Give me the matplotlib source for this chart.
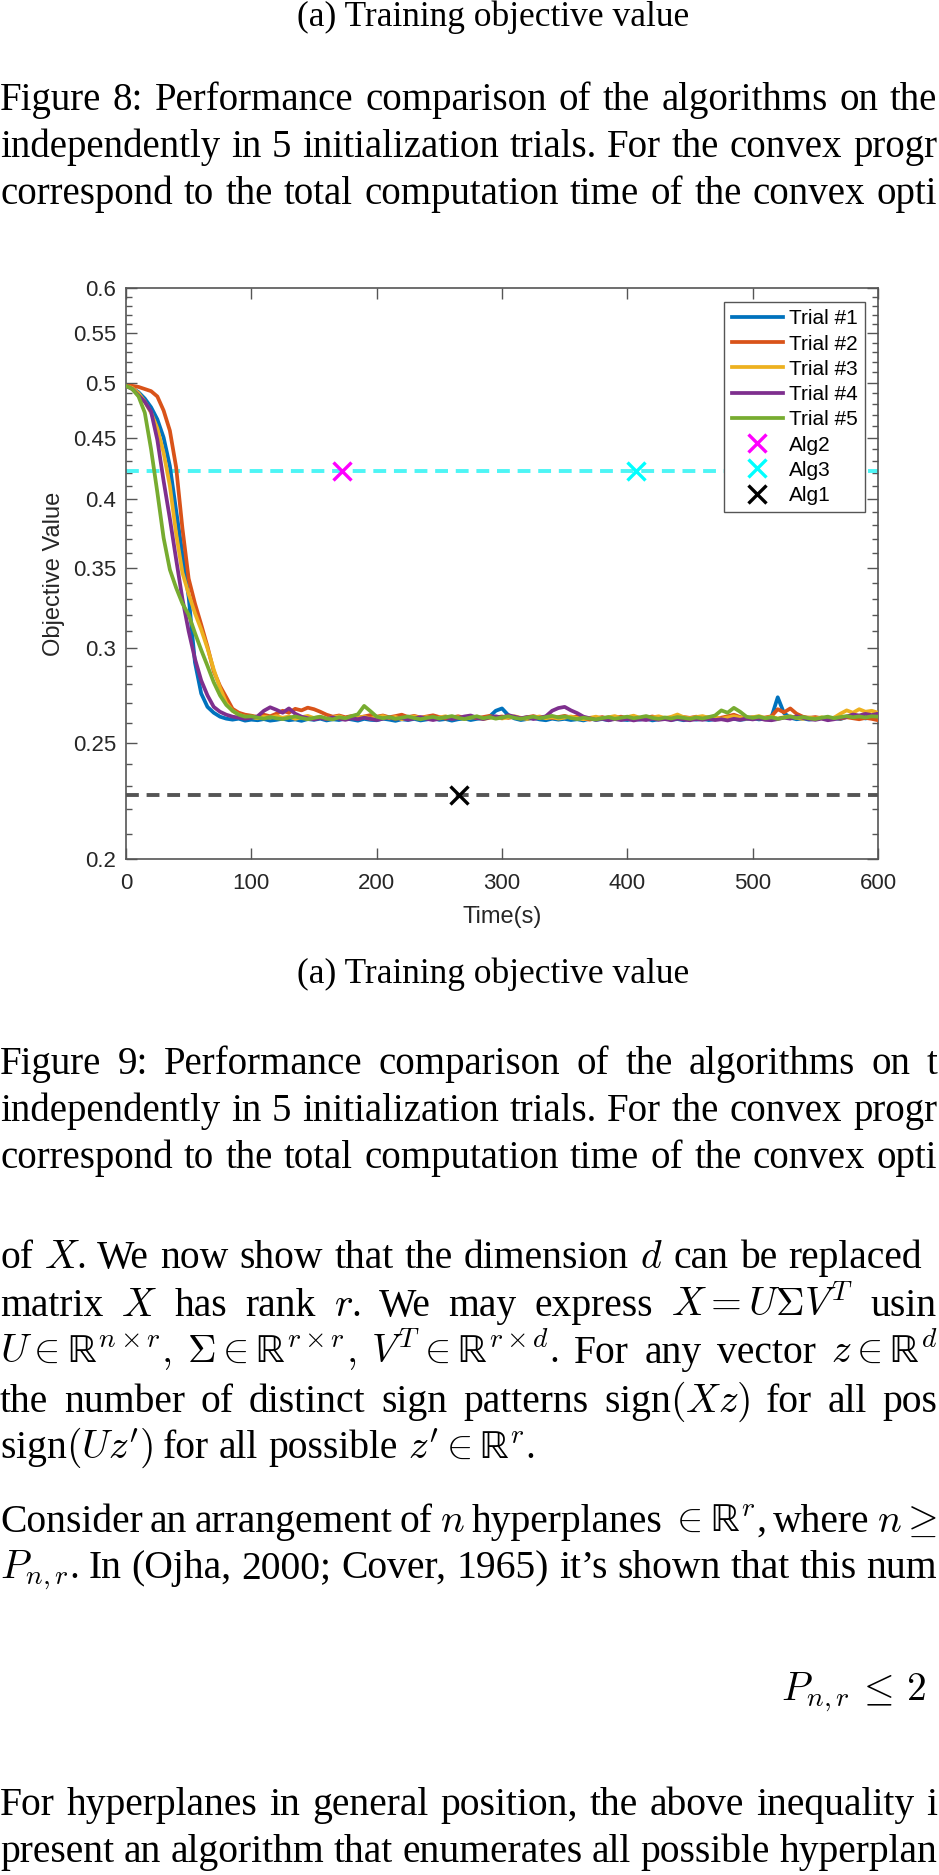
import numpy as np
import matplotlib.pyplot as plt
from matplotlib.ticker import FixedLocator, NullFormatter

W, H = 939, 1875

plt.rcParams['font.family'] = 'Liberation Serif'
plt.rcParams['mathtext.fontset'] = 'cm'

# time grid of the trial curves (s)
time_s = np.arange(0, 601, 5)

# descent part, t = 0..95 s
t1_desc = [.497, .495, .491, .485, .477, .466, .450, .426, .391, .360,
           .331, .292, .275, .268, .265, .263, .262, .2615, .262, .261]
t2_desc = [.497, .497, .496, .494, .492, .487, .474, .456, .425, .378,
           .343, .327, .314, .301, .287, .279, .273, .267, .265, .264]
t3_desc = [.497, .495, .490, .482, .472, .458, .437, .410, .374, .347,
           .333, .321, .311, .300, .288, .278, .270, .266, .264, .263]
t4_desc = [.497, .494, .488, .482, .473, .448, .414, .385, .356, .330,
           .310, .294, .282, .274, .268, .2655, .264, .263, .2625, .262]
t5_desc = [.497, .494, .487, .472, .440, .405, .371, .349, .337, .327,
           .320, .309, .299, .290, .281, .274, .269, .266, .264, .263]

# plateau part, t = 100..600 s
t1_plat = [.2615, .2612, .2618, .2610, .2614, .2620, .2612, .2616, .2609, .2618,
           .2614, .2620, .2611, .2617, .2613, .2621, .2616, .2610, .2619, .2614,
           .2612, .2620, .2615, .2609, .2617, .2613, .2619, .2611, .2616, .2622,
           .2614, .2618, .2610, .2617, .2621, .2613, .2619, .2622, .2630, .2660,
           .2672, .2638, .2621, .2613, .2618, .2624, .2616, .2612, .2620, .2615,
           .2619, .2613, .2617, .2611, .2620, .2614, .2618, .2612, .2622, .2616,
           .2613, .2619, .2615, .2621, .2611, .2617, .2624, .2614, .2618, .2612,
           .2620, .2615, .2619, .2613, .2617, .2622, .2615, .2619, .2614, .2618,
           .2623, .2616, .2620, .2628, .2730, .2648, .2625, .2617, .2621, .2615,
           .2619, .2624, .2616, .2622, .2618, .2628, .2638, .2630, .2621, .2628,
           .2625]
t2_plat = [.2635, .2628, .2640, .2632, .2645, .2660, .2650, .2670, .2662, .2676,
           .2668, .2655, .2640, .2630, .2636, .2627, .2633, .2625, .2631, .2638,
           .2630, .2636, .2627, .2633, .2640, .2628, .2634, .2625, .2631, .2637,
           .2628, .2620, .2626, .2632, .2624, .2630, .2622, .2628, .2634, .2626,
           .2631, .2624, .2629, .2621, .2627, .2633, .2625, .2630, .2623, .2628,
           .2634, .2626, .2631, .2620, .2615, .2622, .2628, .2618, .2624, .2630,
           .2622, .2627, .2619, .2625, .2631, .2623, .2618, .2626, .2621, .2628,
           .2624, .2630, .2622, .2627, .2619, .2625, .2632, .2640, .2628, .2623,
           .2627, .2621, .2626, .2632, .2668, .2652, .2672, .2645, .2630, .2624,
           .2628, .2622, .2618, .2625, .2620, .2627, .2622, .2617, .2624, .2619,
           .2612]
t3_plat = [.2628, .2622, .2630, .2625, .2633, .2624, .2631, .2619, .2627, .2634,
           .2623, .2629, .2618, .2626, .2632, .2621, .2628, .2624, .2630, .2620,
           .2627, .2633, .2622, .2629, .2617, .2625, .2631, .2623, .2628, .2619,
           .2626, .2632, .2621, .2627, .2619, .2625, .2630, .2618, .2624, .2629,
           .2621, .2627, .2632, .2624, .2618, .2626, .2631, .2622, .2628, .2620,
           .2625, .2631, .2623, .2617, .2624, .2630, .2621, .2627, .2633, .2622,
           .2628, .2635, .2624, .2619, .2626, .2632, .2623, .2629, .2641, .2627,
           .2622, .2628, .2633, .2624, .2630, .2619, .2626, .2632, .2625, .2620,
           .2627, .2633, .2623, .2629, .2621, .2627, .2632, .2624, .2619, .2626,
           .2620, .2627, .2618, .2625, .2645, .2662, .2650, .2668, .2655, .2660,
           .2650]
t4_plat = [.2625, .2632, .2660, .2678, .2665, .2650, .2672, .2645, .2630, .2622,
           .2616, .2623, .2618, .2626, .2620, .2614, .2622, .2617, .2625, .2619,
           .2613, .2620, .2626, .2618, .2624, .2615, .2621, .2628, .2619, .2613,
           .2620, .2627, .2618, .2623, .2631, .2636, .2624, .2618, .2626, .2632,
           .2625, .2638, .2630, .2622, .2628, .2618, .2624, .2632, .2660, .2674,
           .2680, .2662, .2648, .2630, .2622, .2614, .2620, .2612, .2618, .2613,
           .2619, .2611, .2617, .2613, .2620, .2614, .2618, .2612, .2621, .2615,
           .2612, .2618, .2614, .2620, .2613, .2617, .2611, .2619, .2614, .2621,
           .2616, .2622, .2614, .2612, .2618, .2625, .2620, .2632, .2624, .2618,
           .2614, .2620, .2612, .2617, .2624, .2630, .2641, .2636, .2644, .2638,
           .2645]
t5_plat = [.2632, .2625, .2620, .2628, .2622, .2618, .2625, .2631, .2623, .2617,
           .2624, .2630, .2621, .2616, .2627, .2622, .2633, .2642, .2685, .2658,
           .2630, .2622, .2628, .2619, .2625, .2631, .2623, .2617, .2624, .2629,
           .2621, .2627, .2633, .2624, .2618, .2626, .2632, .2622, .2628, .2620,
           .2626, .2632, .2624, .2619, .2625, .2630, .2622, .2628, .2634, .2626,
           .2631, .2623, .2618, .2625, .2620, .2616, .2623, .2628, .2619, .2625,
           .2630, .2622, .2627, .2633, .2624, .2619, .2626, .2621, .2628, .2624,
           .2619, .2626, .2621, .2628, .2636, .2662, .2650, .2675, .2655, .2630,
           .2624, .2630, .2622, .2627, .2619, .2625, .2631, .2623, .2628, .2622,
           .2618, .2625, .2630, .2622, .2628, .2633, .2627, .2631, .2626, .2632,
           .2630]

trial_labels = ['Trial #1', 'Trial #2', 'Trial #3', 'Trial #4', 'Trial #5']
trial_colors = ['#0072BD', '#D95319', '#EDB120', '#7E2F8E', '#77AC30']

alg_names = ['Alg2', 'Alg3', 'Alg1']
alg_time = [172, 407, 266]
alg_value = [0.422, 0.422, 0.2262]
alg_colors = ['#FF00FF', '#00FFFF', '#000000']

y_major = [0.2, 0.25, 0.3, 0.35, 0.4, 0.45, 0.5, 0.55, 0.6]
y_labels = ['0.2', '0.25', '0.3', '0.35', '0.4', '0.45', '0.5', '0.55', '0.6']
x_major = [0, 100, 200, 300, 400, 500, 600]

R = r'\mathrm{ℝ}'


def fx(x):
    return x / W


def fy(y):
    return 1 - y / H


fig = plt.figure(figsize=(W / 100, H / 100), dpi=100)
renderer = fig.canvas.get_renderer()


def line(words, y, fs, x1=None, x0=0):
    # place words on one text line; with x1 the line is justified to end at x1
    texts = [fig.text(0, fy(y), w, fontsize=fs, va='baseline') for w in words]
    widths = [t.get_window_extent(renderer).width for t in texts]
    gap = fs * 100 / 72 * 0.25
    if x1 is not None:
        gap = max((x1 - x0 - sum(widths)) / (len(words) - 1), 0.5 * gap)
    x = x0
    for t, w in zip(texts, widths):
        t.set_x(fx(x))
        x += w + gap


sub_fs = 25.5
cap_fs = 28
body_fs = 28.5

# ---- page text above the chart ----
fig.text(fx(493), fy(26), '(a) Training objective value', fontsize=sub_fs,
         ha='center', va='baseline')
line('Figure 8: Performance comparison of the algorithms on the'.split(),
     110, cap_fs, x1=937)
line('independently in 5 initialization trials. For the convex progr'.split(),
     157, cap_fs, x1=937)
line('correspond to the total computation time of the convex opti'.split(),
     204, cap_fs, x1=937)

# ---- chart ----
ax = fig.add_axes([fx(126), fy(859), fx(878 - 126), (859 - 288) / H])
sans = 'Liberation Sans'

trials = [t1_desc + t1_plat, t2_desc + t2_plat, t3_desc + t3_plat,
          t4_desc + t4_plat, t5_desc + t5_plat]
for vals, lab, col in zip(trials, trial_labels, trial_colors):
    ax.plot(time_s, vals, color=col, lw=2.7, label=lab, zorder=3)

ax.axhline(alg_value[1], color='#4DF5F5', lw=2.8, ls=(0, (3.3, 2.0)), zorder=2)
ax.axhline(alg_value[2], color='#555555', lw=2.8, ls=(0, (3.3, 2.0)), zorder=2)
for t, v, name, col in zip(alg_time, alg_value, alg_names, alg_colors):
    ax.plot([t], [v], ls='none', marker='x', ms=13, mew=2.4, color=col,
            label=name, zorder=4)

ax.set_yscale('log')
ax.set_xlim(0, 600)
ax.set_ylim(0.2, 0.6)
ax.yaxis.set_major_locator(FixedLocator(y_major))
ax.yaxis.set_minor_locator(FixedLocator(
    [v / 100 for v in range(21, 60) if v % 5 != 0]))
ax.set_yticklabels(y_labels)
ax.yaxis.set_minor_formatter(NullFormatter())
ax.set_xticks(x_major)
ax.set_xticklabels([str(v) for v in x_major])
ax.tick_params(which='both', direction='in', top=True, right=True,
               color='#555555', labelcolor='#262626', labelsize=16)
ax.tick_params(which='major', length=8, width=1)
ax.tick_params(which='minor', length=4, width=1)
ax.tick_params(axis='x', pad=10)
ax.tick_params(axis='y', pad=7)
for lbl in ax.get_xticklabels() + ax.get_yticklabels():
    lbl.set_fontfamily(sans)
for sp in ax.spines.values():
    sp.set_color('#555555')
    sp.set_linewidth(1.2)
ax.set_xlabel('Time(s)', fontsize=17, family=sans, color='#262626', labelpad=9)
ax.set_ylabel('Objective Value', fontsize=17, family=sans, color='#262626',
              labelpad=6)

leg = ax.legend(loc='upper right', bbox_to_anchor=((865 - 126) / 752,
                (859 - 302) / 571), borderaxespad=0, fancybox=False,
                framealpha=1, edgecolor='#555555', prop={'family': sans,
                'size': 15}, handlelength=2.45, handletextpad=0.3,
                labelspacing=0.30, borderpad=0.35)
leg.get_frame().set_linewidth(1.0)
leg.set_zorder(5)

# ---- page text below the chart ----
fig.text(fx(493), fy(983), '(a) Training objective value', fontsize=sub_fs,
         ha='center', va='baseline')
line('Figure 9: Performance comparison of the algorithms on t'.split(),
     1074, cap_fs, x1=937)
line('independently in 5 initialization trials. For the convex progr'.split(),
     1121, cap_fs, x1=937)
line('correspond to the total computation time of the convex opti'.split(),
     1168, cap_fs, x1=937)

line(['of', '$X$.', 'We', 'now', 'show', 'that', 'the', 'dimension', '$d$',
      'can', 'be', 'replaced'], 1268, body_fs, x1=922)
line(['matrix', '$X$', 'has', 'rank', '$r$.', 'We', 'may', 'express',
      r'$X = U\Sigma V^T$', 'usin'], 1316, body_fs, x1=937)
line([r'$U \in ' + R + r'^{n\times r},$', r'$\Sigma \in ' + R +
      r'^{r\times r},$', r'$V^T \in ' + R + r'^{r\times d}$.', 'For',
      'any', 'vector', r'$z \in ' + R + '^d$'], 1363, body_fs, x1=937)
line(['the', 'number', 'of', 'distinct', 'sign', 'patterns', 'sign$(Xz)$',
      'for', 'all', 'pos'], 1412, body_fs, x1=937)
line(["sign$(Uz')$", 'for', 'all', 'possible',
      r"$z' \in " + R + "^r$."], 1458, body_fs)

line(['Consider', 'an', 'arrangement', 'of', '$n$', 'hyperplanes',
      r'$\in ' + R + '^r$,', 'where', r'$n \geq$'], 1532, body_fs, x1=937)
line(['$P_{n,r}$.', 'In', '(Ojha,', '2000;', 'Cover,', '1965)', 'it’s',
      'shown', 'that', 'this', 'num'], 1578, body_fs, x1=937)

fig.text(fx(781), fy(1700), r'$P_{n,r} \,\leq\, 2$', fontsize=body_fs,
         va='baseline')

line(['For', 'hyperplanes', 'in', 'general', 'position,', 'the', 'above',
      'inequality', 'i'], 1815, body_fs, x1=937)
line(['present', 'an', 'algorithm', 'that', 'enumerates', 'all', 'possible',
      'hyperplan'], 1862, body_fs, x1=937)

fig.savefig('out.png', dpi=100)
